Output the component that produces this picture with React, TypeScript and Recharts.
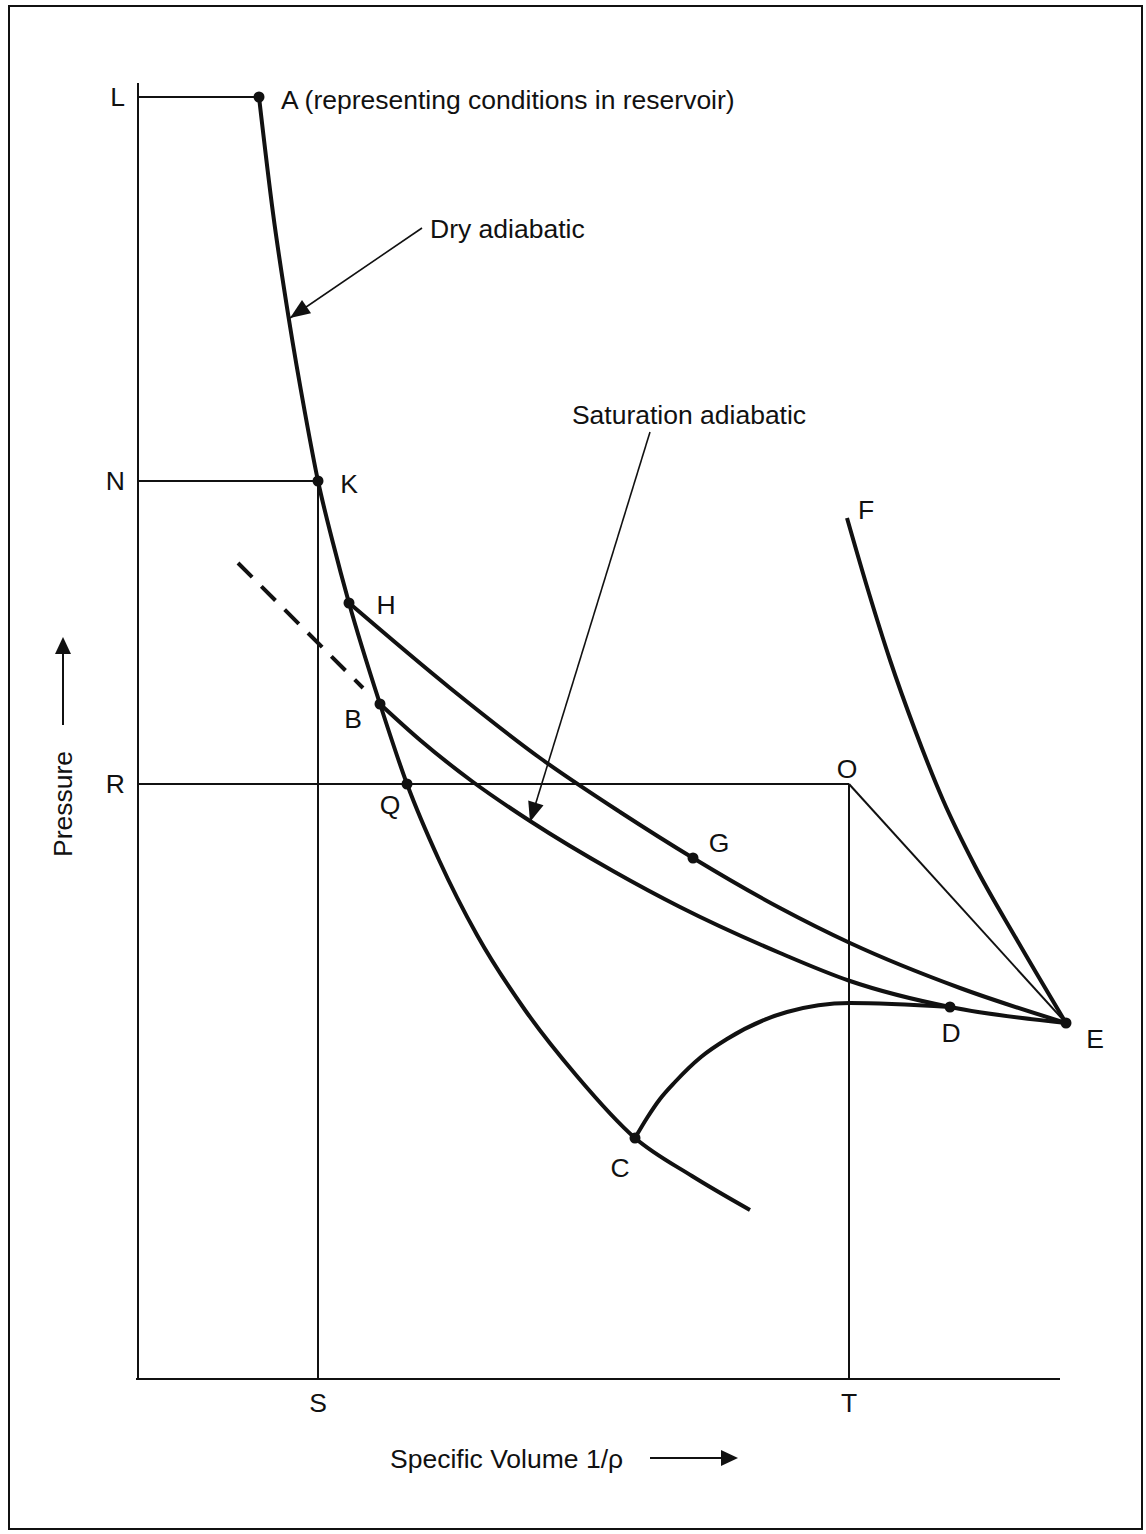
import { ComposedChart, Line, Scatter, XAxis, YAxis, ReferenceLine } from "recharts";

const FONT = "'Liberation Sans', Arial, Helvetica, sans-serif";
const INK = "#111";
const FS = 26.5;

// x = specific volume, y = pressure (arbitrary units)
const dryAdiabatic = [
  { x: 121, y: 1282 }, { x: 135, y: 1166 }, { x: 151, y: 1059 }, { x: 167, y: 966 },
  { x: 180, y: 898 }, { x: 195, y: 836 }, { x: 211, y: 776 }, { x: 242, y: 675 },
  { x: 269, y: 595 }, { x: 301, y: 519 }, { x: 339, y: 444 }, { x: 387, y: 369 },
  { x: 438, y: 304 }, { x: 497, y: 241 }, { x: 554, y: 203 }, { x: 612, y: 169 },
];

// H - G - E
const upperCurve = [
  { x: 211, y: 776 }, { x: 312, y: 691 }, { x: 402, y: 621 }, { x: 482, y: 567 },
  { x: 555, y: 521 }, { x: 642, y: 471 }, { x: 712, y: 436 }, { x: 822, y: 391 },
  { x: 928, y: 356 },
];

// B - D - E
const saturationAdiabatic = [
  { x: 242, y: 675 }, { x: 282, y: 639 }, { x: 335, y: 597 }, { x: 392, y: 558 },
  { x: 475, y: 508 }, { x: 542, y: 472 }, { x: 642, y: 426 }, { x: 712, y: 398 },
  { x: 812, y: 372 }, { x: 928, y: 356 },
];

const saturationExtension = [{ x: 100, y: 816 }, { x: 225, y: 691 }];

// C - D
const curveCD = [
  { x: 497, y: 241 }, { x: 509, y: 261 }, { x: 522, y: 280 }, { x: 537, y: 297 },
  { x: 563, y: 322 }, { x: 589, y: 340 }, { x: 649, y: 367 }, { x: 712, y: 376 },
  { x: 812, y: 372 },
];

// F - E
const curveFE = [
  { x: 709, y: 861 }, { x: 730, y: 789 }, { x: 752, y: 719 }, { x: 777, y: 649 },
  { x: 805, y: 579 }, { x: 837, y: 513 }, { x: 879, y: 439 }, { x: 928, y: 356 },
];

const lineOE = [{ x: 711, y: 595 }, { x: 928, y: 356 }];

const markedPoints = [
  { name: "A", x: 121, y: 1282 }, { name: "K", x: 180, y: 898 }, { name: "H", x: 211, y: 776 },
  { name: "B", x: 242, y: 675 }, { name: "Q", x: 269, y: 595 }, { name: "G", x: 555, y: 521 },
  { name: "C", x: 497, y: 241 }, { name: "D", x: 812, y: 372 }, { name: "E", x: 928, y: 356 },
];
const plainPoints = [{ name: "O", x: 711, y: 595 }, { name: "F", x: 709, y: 861 }];

const yTickValues = [1282, 898, 595];
const yTickLabels = ["L", "N", "R"];
const xTickValues = [180, 711];
const xTickLabels = ["S", "T"];

// L-A, N-K, K-S, R-O, O-T, volume axis
const guideLines = [
  [0, 1282, 121, 1282],
  [0, 898, 180, 898],
  [180, 898, 180, 0],
  [0, 595, 711, 595],
  [711, 595, 711, 0],
  [-2, 0, 922, 0],
];

const annotations = [
  { text: "Dry adiabatic", from: [284, 1151], to: [152, 1061] },
  { text: "Saturation adiabatic", from: [512, 947], to: [392, 557] },
];

const labelText: Record<string, string> = { A: "A (representing conditions in reservoir)" };
const labelPos: Record<string, [number, number, string?]> = {
  A: [22, 2, "start"], K: [31, 2], H: [37, 1], B: [-27, 14], Q: [-17, 20], G: [26, -16],
  C: [-15, 29], D: [1, 25], E: [29, 15], O: [-2, -16], F: [19, -9],
};
const annotationPos = [
  { dx: 8, dy: 0, anchor: "start" },
  { dx: 39, dy: -18, anchor: "middle" },
];

function arrowHead(x1: number, y1: number, x2: number, y2: number, len: number, half: number) {
  const a = Math.atan2(y2 - y1, x2 - x1);
  const bx = x2 - len * Math.cos(a);
  const by = y2 - len * Math.sin(a);
  const px = -Math.sin(a) * half;
  const py = Math.cos(a) * half;
  return `${x2},${y2} ${bx + px},${by + py} ${bx - px},${by - py}`;
}

const PointMark = (props: any) => {
  const { cx, cy, payload, showDot } = props;
  const [dx, dy, anchor] = labelPos[payload.name] || [0, 0];
  return (
    <g>
      {showDot && <circle cx={cx} cy={cy} r={5.5} fill={INK} />}
      <text x={cx + dx} y={cy + dy} dy="0.36em" textAnchor={anchor || "middle"}
        fontFamily={FONT} fontSize={FS} fill={INK}>
        {labelText[payload.name] || payload.name}
      </text>
    </g>
  );
};

const AnnotationArrow = (i: number) => (props: any) => {
  const { x1, y1, x2, y2 } = props;
  const p = annotationPos[i];
  return (
    <g>
      <line x1={x1} y1={y1} x2={x2} y2={y2} stroke={INK} strokeWidth={1.6} />
      <polygon points={arrowHead(x1, y1, x2, y2, 20, 8)} fill={INK} />
      <text x={x1 + p.dx} y={y1 + p.dy} dy="0.36em" textAnchor={p.anchor as any}
        fontFamily={FONT} fontSize={FS} fill={INK}>
        {annotations[i].text}
      </text>
    </g>
  );
};

const VolumeTitle = () => (
  <g>
    <text x={390} y={1458} dy="0.36em" fontFamily={FONT} fontSize={FS} fill={INK}>
      Specific Volume 1/ρ
    </text>
    <line x1={650} y1={1458} x2={724} y2={1458} stroke={INK} strokeWidth={2} />
    <polygon points={arrowHead(650, 1458, 738, 1458, 17, 8)} fill={INK} />
  </g>
);

const PressureTitle = () => (
  <g>
    <text x={62} y={804} dy="0.36em" textAnchor="middle" transform="rotate(-90 62 804)"
      fontFamily={FONT} fontSize={FS} fill={INK}>
      Pressure
    </text>
    <line x1={63} y1={725} x2={63} y2={650} stroke={INK} strokeWidth={2} />
    <polygon points={arrowHead(63, 725, 63, 637, 17, 8)} fill={INK} />
  </g>
);

const tickStyle = { fontFamily: FONT, fontSize: FS, fill: INK };

export default function App() {
  return (
    <div style={{ position: "absolute", left: 0, top: 0, width: 1146, height: 1534, background: "#fff" }}>
      <div style={{ position: "absolute", left: 8, top: 5, width: 1135, height: 1525, border: `2px solid ${INK}`, boxSizing: "border-box" }} />
      <ComposedChart width={1146} height={1534} margin={{ top: 83, right: 78, bottom: 95, left: 0 }}
        style={{ position: "absolute", left: 0, top: 0 }}>
        <XAxis type="number" dataKey="x" domain={[0, 930]} ticks={xTickValues} interval={0}
          tickFormatter={(v) => xTickLabels[xTickValues.indexOf(v)] ?? ""}
          axisLine={false} tickLine={false} tickSize={0} tickMargin={14} height={60}
          tick={tickStyle} label={{ content: <VolumeTitle /> }} />
        <YAxis type="number" dataKey="y" domain={[0, 1296]} ticks={yTickValues} interval={0}
          tickFormatter={(v) => yTickLabels[yTickValues.indexOf(v)] ?? ""}
          axisLine={{ stroke: INK, strokeWidth: 2 }} tickLine={false} tickSize={0} tickMargin={13}
          width={138} tick={tickStyle} label={{ content: <PressureTitle /> }} />

        {guideLines.map((g, i) => (
          <ReferenceLine key={`g${i}`} segment={[{ x: g[0], y: g[1] }, { x: g[2], y: g[3] }]}
            stroke={INK} strokeWidth={2} ifOverflow="visible" />
        ))}

        <Line data={lineOE} dataKey="y" type="linear" stroke={INK} strokeWidth={2} dot={false} isAnimationActive={false} />
        <Line data={saturationExtension} dataKey="y" type="linear" stroke={INK} strokeWidth={4}
          strokeDasharray="20 13" dot={false} isAnimationActive={false} />
        <Line data={dryAdiabatic} dataKey="y" type="monotone" stroke={INK} strokeWidth={4} dot={false} isAnimationActive={false} />
        <Line data={upperCurve} dataKey="y" type="monotone" stroke={INK} strokeWidth={4} dot={false} isAnimationActive={false} />
        <Line data={saturationAdiabatic} dataKey="y" type="monotone" stroke={INK} strokeWidth={4} dot={false} isAnimationActive={false} />
        <Line data={curveCD} dataKey="y" type="monotone" stroke={INK} strokeWidth={4} dot={false} isAnimationActive={false} />
        <Line data={curveFE} dataKey="y" type="monotone" stroke={INK} strokeWidth={4} dot={false} isAnimationActive={false} />

        {annotations.map((a, i) => (
          <ReferenceLine key={`a${i}`} segment={[{ x: a.from[0], y: a.from[1] }, { x: a.to[0], y: a.to[1] }]}
            ifOverflow="visible" shape={AnnotationArrow(i)} />
        ))}

        <Scatter data={markedPoints} dataKey="y" isAnimationActive={false}
          shape={(p: any) => <PointMark {...p} showDot />} />
        <Scatter data={plainPoints} dataKey="y" isAnimationActive={false}
          shape={(p: any) => <PointMark {...p} showDot={false} />} />
      </ComposedChart>
    </div>
  );
}
